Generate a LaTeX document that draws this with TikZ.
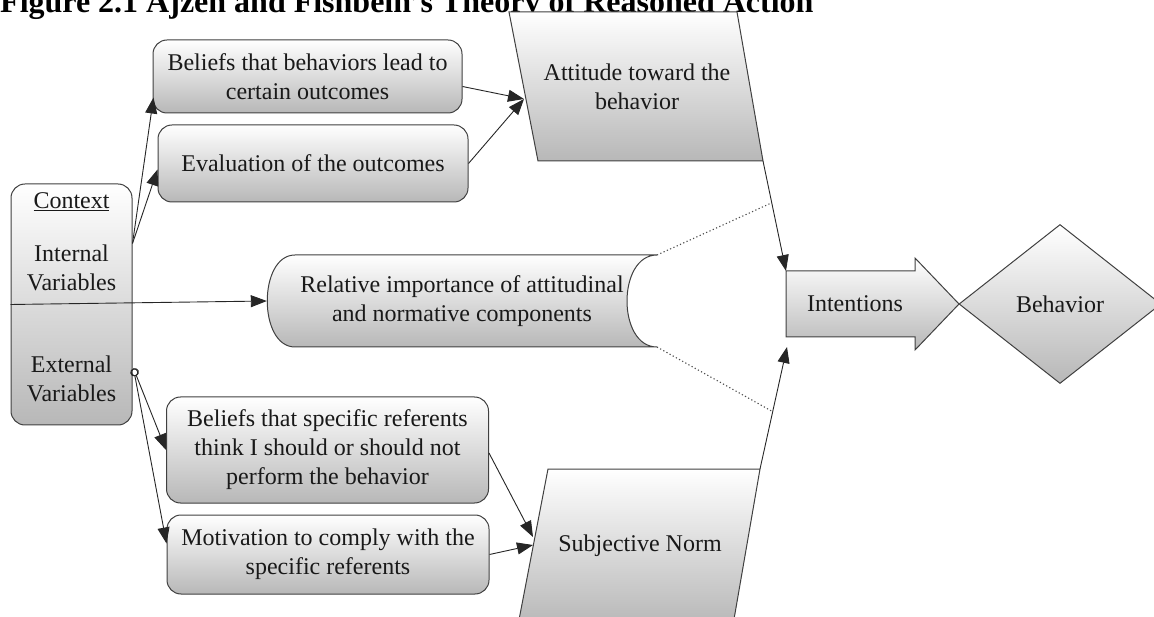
\documentclass[tikz,border=0pt]{standalone}
\usepackage{fontspec}
\setmainfont{Liberation Serif}
\usetikzlibrary{shapes,arrows.meta,positioning,calc}

\begin{document}
\begin{tikzpicture}[x=1pt, y=-1pt,
  lbl/.style={align=center, font=\fontsize{24}{29}\selectfont, text=black!90},
  fillg/.style={draw=black!75, line width=1pt, top color=white, bottom color=black!28},
  box/.style={lbl, fillg, rectangle, rounded corners=14pt},
  arr/.style={draw=black!85, line width=0.9pt, -{Triangle[length=16pt,width=12pt]}},
  dots/.style={line width=1.1pt, draw=black!70, dash pattern=on 1.2pt off 2.4pt},
]
  \useasboundingbox (0,0) rectangle (1154,617);
  \clip (0,0) rectangle (1154,617);

  \node[anchor=base west, inner sep=0pt, font=\fontsize{32}{38}\selectfont\bfseries] (title) at (0,13) {Figure 2.1 Ajzen and Fishbein's Theory of Reasoned Action};

  \path[fillg] (509,12) -- (737,12) -- (763,161) coordinate (attBR) -- (538,161) -- cycle;
  \path[fillg] (548,469) -- (760,469) coordinate (subjTR) -- (733,625) -- (518,625) -- cycle;
  \path[fillg] (295,255) -- (657,255) coordinate (relTR) .. controls (617,255) and (617,347) .. (657,347) coordinate (relBR) -- (295,347) .. controls (258,347) and (258,255) .. cycle;
  \path[fillg] (786,271) coordinate (intNW) -- (915,271) -- (915,258) -- (959,304) -- (915,350) -- (915,337) -- (786,337) coordinate (intSW) -- cycle;
  \coordinate (attIn) at (524,99);

  \node[box, minimum width=309pt, minimum height=73pt] (bel) at (307.5,76.5) {Beliefs that behaviors lead to\\certain outcomes};
  \node[box, minimum width=310pt, minimum height=77pt] (eval) at (313,163.5) {Evaluation of the outcomes};
  \node[box, minimum width=121pt, minimum height=241pt] (ctx) at (71.5,304.5) {};
  \node[lbl] (ctxhd) at (71.5,202) {\underline{Context}};
  \node[lbl] (intv) at (71.5,268) {Internal\\Variables};
  \node[lbl] (extv) at (71.5,379) {External\\Variables};
  \node[lbl, minimum width=390pt, minimum height=92pt] (rel) at (462,301) {Relative importance of attitudinal\\and normative components};
  \node[box, minimum width=322pt, minimum height=106pt] (belref) at (327.5,450) {Beliefs that specific referents\\think I should or should not\\perform the behavior};
  \node[box, minimum width=322pt, minimum height=79pt] (mot) at (328,554.5) {Motivation to comply with the\\specific referents};
  \node[lbl] (att) at (637,87) {Attitude toward the\\behavior};
  \node[lbl] (subj) at (640,546) {Subjective Norm};
  \node[lbl] (int) at (855,304) {Intentions};
  \node[lbl, fillg, diamond, minimum width=202pt, minimum height=159pt, inner sep=0pt] (behav) at (1060,304) {Behavior};

  \draw[arr] ($(ctx.east)+(0,-61)$) -- ($(bel.south west)+(1,-16)$);
  \draw[arr] ($(ctx.east)+(0,-61)$) -- ($(eval.west)+(0,6)$);
  \draw[arr] ($(bel.east)+(0,10)$) -- (attIn);
  \draw[arr] (eval.east) -- (attIn);
  \draw[arr] (ctx.west) -- (rel.west);
  \draw[arr, {Circle[open,length=8pt,width=8pt]}-{Triangle[length=16pt,width=12pt]}] ($(ctx.east)+(1,64)$) -- (belref.west);
  \draw[arr, {Circle[open,length=8pt,width=8pt]}-{Triangle[length=16pt,width=12pt]}] ($(ctx.east)+(1,64)$) -- ($(mot.west)+(0,-11)$);
  \draw[arr] ($(belref.east)+(0,3)$) -- ($(subjTR)+(-227,68)$);
  \draw[arr] (mot.east) -- ($(subjTR)+(-227,76)$);
  \draw[arr] (attBR) -- coordinate[pos=0.38] (dtop) (intNW);
  \draw[arr] (subjTR) -- coordinate[pos=0.47] (dbot) ($(intSW)+(1,10)$);
  \draw[dots] (relTR) -- (dtop);
  \draw[dots] (relBR) -- (dbot);
\end{tikzpicture}
\end{document}
